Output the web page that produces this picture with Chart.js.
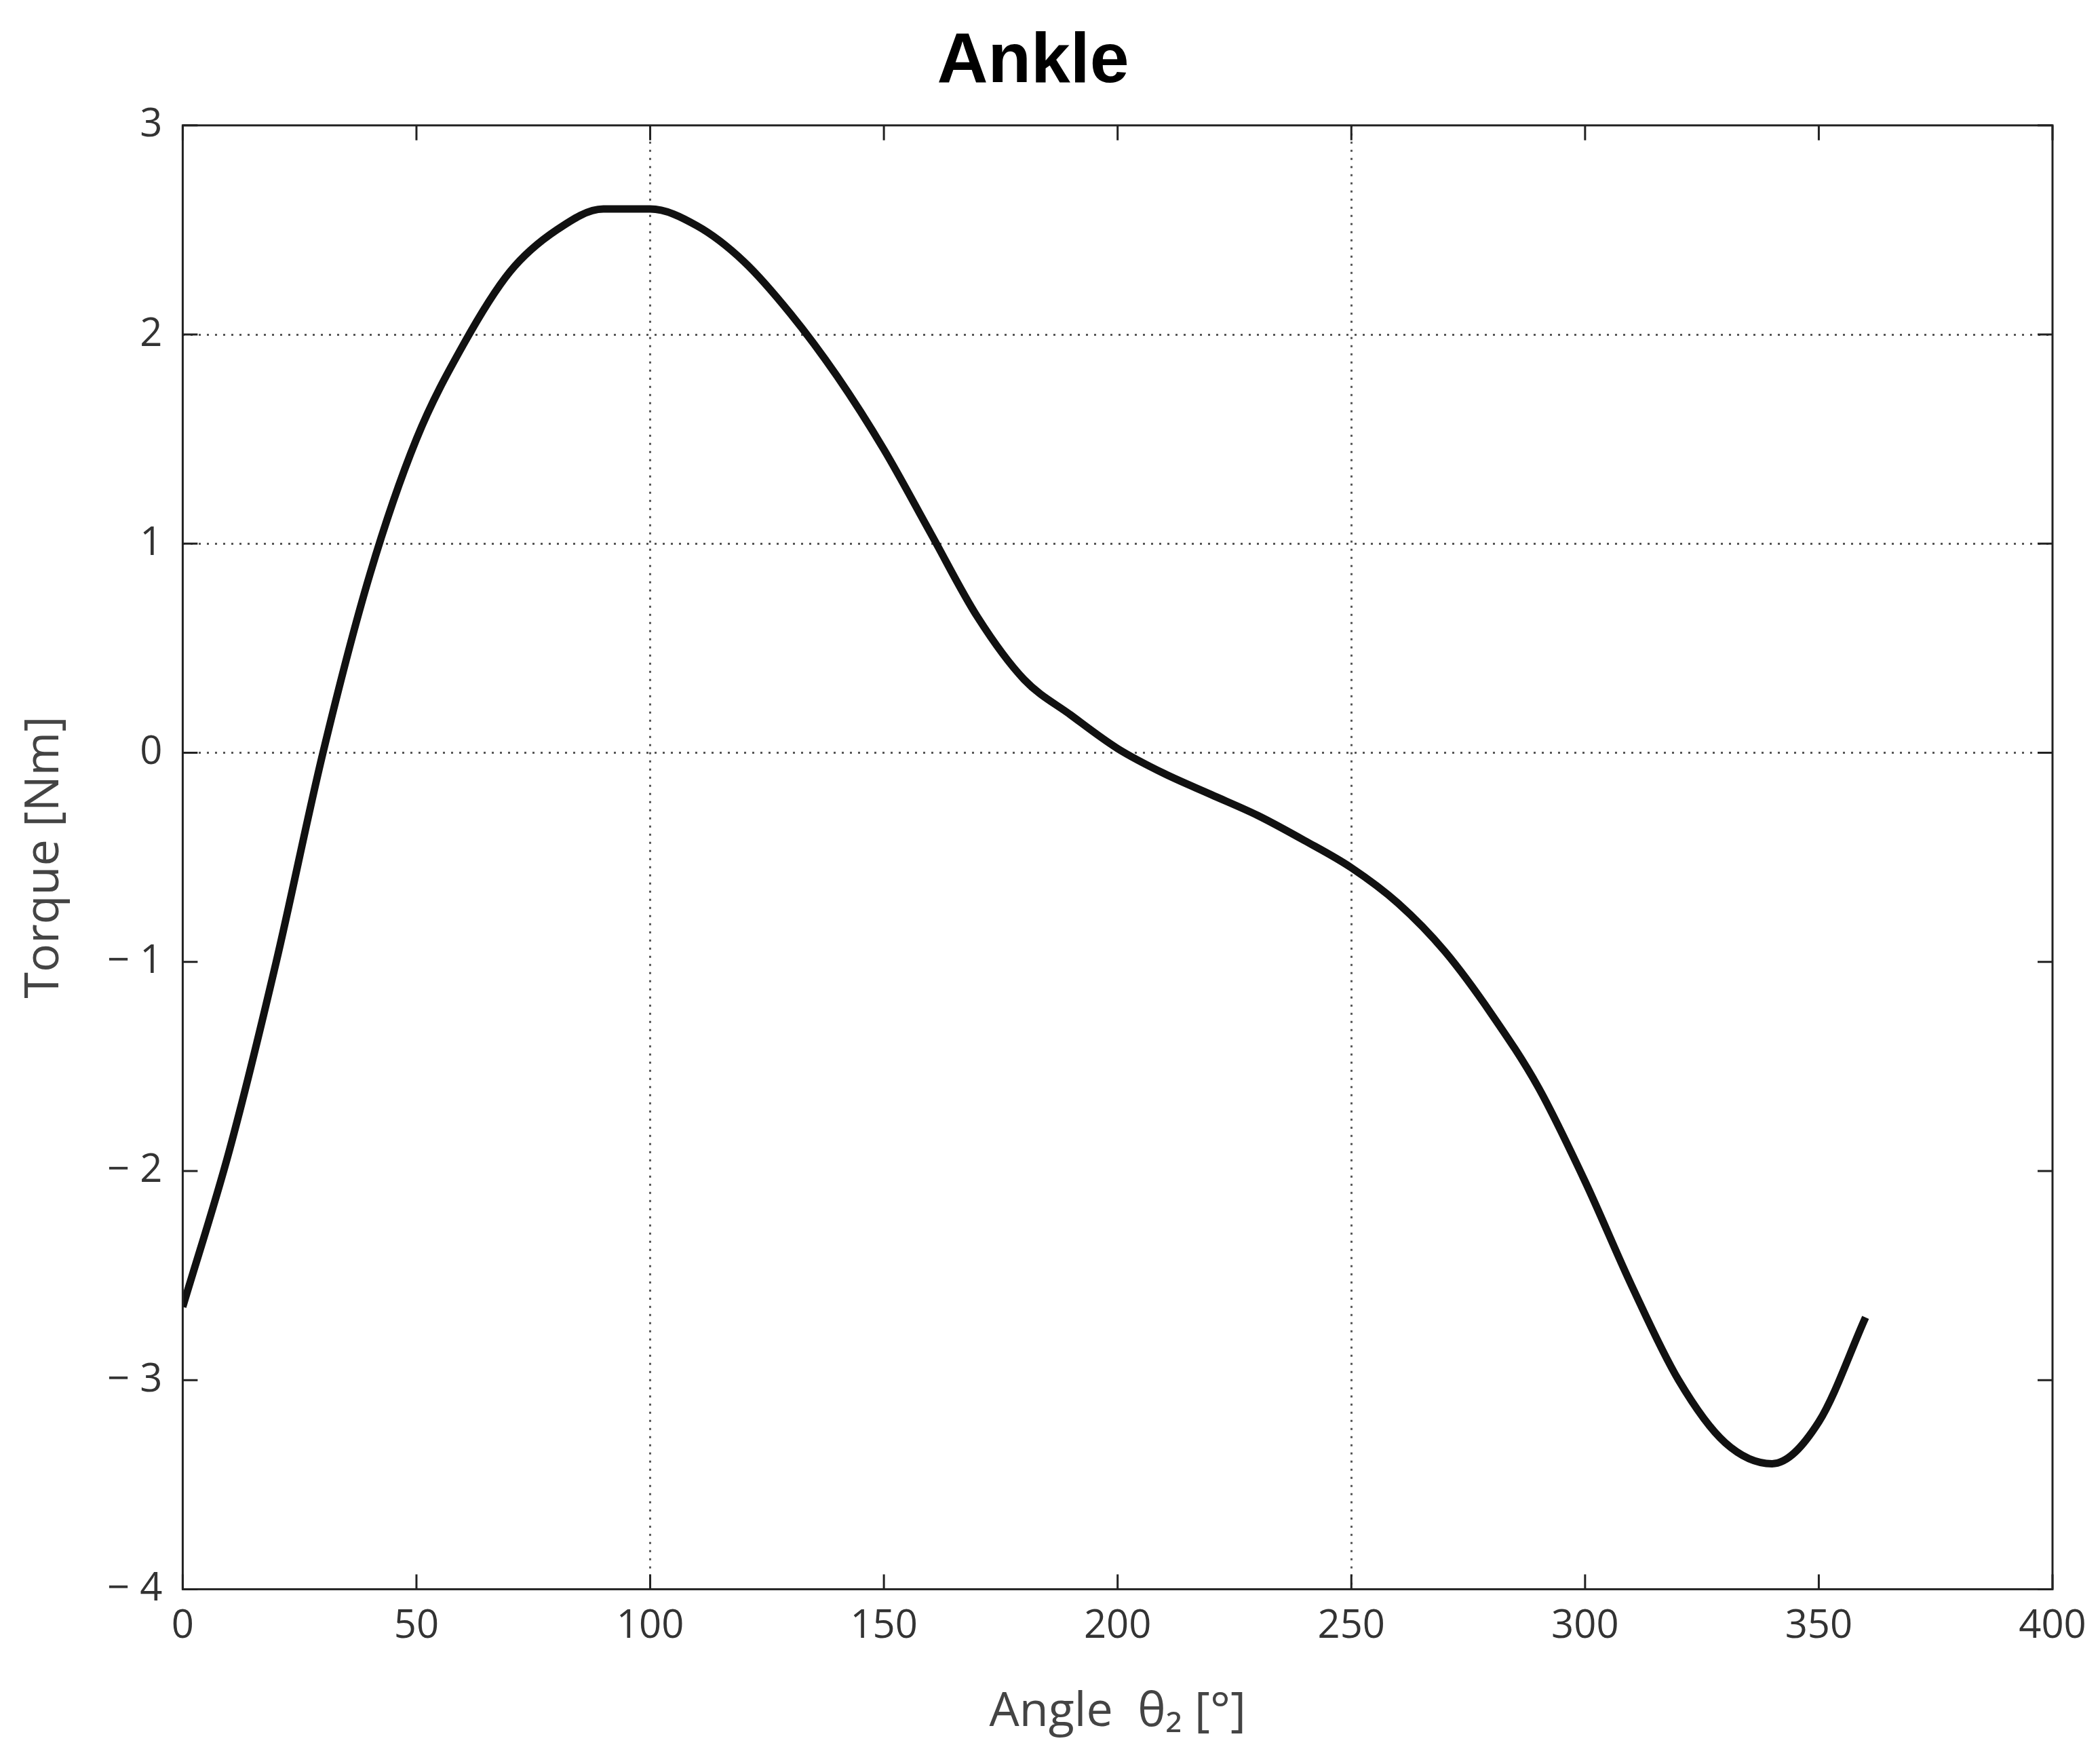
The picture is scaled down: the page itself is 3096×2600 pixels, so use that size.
<!DOCTYPE html>
<html>
<head>
<meta charset="utf-8">
<script src="https://cdn.jsdelivr.net/npm/chart.js@4/dist/chart.umd.min.js"></script>
<style>
html,body{margin:0;padding:0;background:#fff;}
</style>
</head>
<body>
<canvas id="c" width="3096" height="2600"></canvas>
<script>
// Ankle torque vs angle
const angles = [0,10,20,30,40,50,60,70,80,90,100,110,120,130,140,150,160,170,180,190,200,210,220,230,240,250,260,270,280,290,300,310,320,330,340,350,360];
const torque = [-2.65,-1.9,-1.0,0.0,0.85,1.5,1.95,2.3,2.5,2.6,2.6,2.52,2.35,2.1,1.8,1.45,1.05,0.65,0.35,0.18,0.02,-0.1,-0.2,-0.3,-0.42,-0.55,-0.72,-0.95,-1.25,-1.6,-2.05,-2.55,-3.0,-3.3,-3.4,-3.2,-2.7];
const xGridAt = [100,250];
const yGridAt = [0,1,2];

const minus = v => v < 0 ? "\u2212 " + Math.abs(v) : String(v);

// inward tick marks on all four sides + frame
const tickMarks = {
  id:"tickMarks",
  afterDraw(chart){
    const {ctx, chartArea:a, scales:{x,y}} = chart;
    ctx.save();
    ctx.strokeStyle = "#222"; ctx.lineWidth = 3;
    const L = 22;
    x.ticks.forEach(t => {
      const p = x.getPixelForValue(t.value);
      ctx.beginPath();
      ctx.moveTo(p, a.bottom); ctx.lineTo(p, a.bottom - L);
      ctx.moveTo(p, a.top); ctx.lineTo(p, a.top + L);
      ctx.stroke();
    });
    y.ticks.forEach(t => {
      const p = y.getPixelForValue(t.value);
      ctx.beginPath();
      ctx.moveTo(a.left, p); ctx.lineTo(a.left + L, p);
      ctx.moveTo(a.right, p); ctx.lineTo(a.right - L, p);
      ctx.stroke();
    });
    ctx.strokeRect(a.left, a.top, a.right - a.left, a.bottom - a.top);
    ctx.restore();
  }
};

new Chart(document.getElementById("c"), {
  type:"line",
  data:{
    datasets:[{
      data: angles.map((a,i) => ({x:a, y:torque[i]})),
      borderColor:"#111",
      borderWidth:11,
      pointRadius:0,
      cubicInterpolationMode:"monotone"
    }]
  },
  options:{
    responsive:false,
    devicePixelRatio:1,
    animation:false,
    layout:{padding:{top:10,right:70,left:20,bottom:30}},
    plugins:{
      legend:{display:false},
      tooltip:{enabled:false},
      title:{display:true,text:"Ankle",color:"#000",
        font:{family:"Liberation Sans",size:104,weight:"bold"},padding:{top:20,bottom:30}}
    },
    scales:{
      x:{
        type:"linear",min:0,max:400,
        ticks:{stepSize:50,color:"#333",font:{family:"Open Sans",size:58},padding:20},
        grid:{drawTicks:false,lineWidth:3,color:c => xGridAt.includes(c.tick.value) ? "#555" : "transparent",tickBorderDash:[3,9]},
        border:{display:false,dash:[3,9]},
        title:{display:true,text:"Angle  \u03b8\u2082 [\u00b0]",color:"#444",font:{family:"Open Sans",size:70},padding:{top:30}}
      },
      y:{
        min:-4,max:3,
        ticks:{stepSize:1,color:"#333",font:{family:"Open Sans",size:58},padding:30,callback:v => minus(v)},
        grid:{drawTicks:false,lineWidth:3,color:c => yGridAt.includes(c.tick.value) ? "#555" : "transparent"},
        border:{display:false,dash:[3,9]},
        title:{display:true,text:"Torque [Nm]",color:"#444",font:{family:"Open Sans",size:70},padding:{bottom:20}}
      }
    }
  },
  plugins:[tickMarks]
});
</script>
</body>
</html>
